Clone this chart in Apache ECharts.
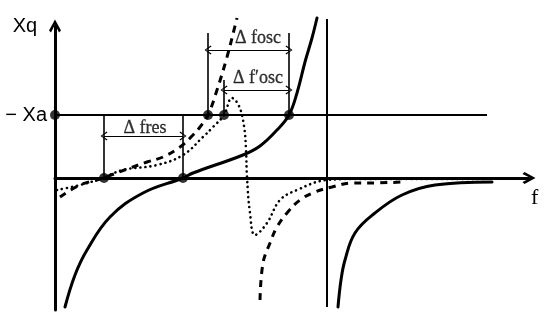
<!DOCTYPE html>
<html>
<head>
<meta charset="utf-8">
<script src="https://cdn.jsdelivr.net/npm/echarts@6/dist/echarts.min.js"></script>
<style>
    html, body { margin: 0; padding: 0; background: #fff; }
    #main { width: 550px; height: 319px; }
</style>
</head>
<body>
<div id="main"></div>
<script>
// diagram units: f to the right of the Xq axis, Xq upward from the f axis
var xaLevel = 63;
var asymptote = [[272, 159], [272, -129]];
var xaLine = [[0, xaLevel], [432, xaLevel]];

// crystal reactance (solid)
var solidLow = [[10, -129], [20, -97], [32, -72], [55, -39], [88, -15], [128, 0], [138, 5],
    [188, 23], [205, 32], [222, 48], [234, 63], [242, 85], [250, 116], [257, 140], [262, 160]];
var solidHigh = [[283, -129], [286, -102], [290, -82], [300, -55], [320, -35], [347, -17],
    [380, -7], [437, -4]];

// dashed curve
var dashedLow = [[5, -19], [25, -7], [45, -1], [75, 10], [92, 16], [108, 21], [125, 31],
    [138, 43], [145, 51], [153, 63], [162, 88], [172, 121], [180, 152], [182, 160]];
var dashedHigh = [[205, -122], [208, -85], [215, -65], [222, -49], [232, -35], [245, -22],
    [260, -14], [277, -9], [297, -5], [313, -5], [347, -4]];

// dotted curve
var dotted = [[2, -12], [25, -7], [45, -1], [68, 8], [102, 13], [128, 23], [148, 41],
    [158, 51], [169, 63], [177, 80], [184, 72], [189, 52], [191, 28], [192, 1], [195, -35],
    [200, -57], [212, -45], [225, -22], [242, -12], [272, -2], [300, -1], [430, -1]];

// crossing points
var crossings = [[0, xaLevel], [49, 0], [128, 0], [153, xaLevel], [169, xaLevel], [234, xaLevel]];

// guide lines [x, from, to] and spans [x1, x2, y]
var guides = [[49, 0, 63], [128, 0, 63], [153, 63, 145], [234, 63, 145], [169, 63, 98]];
var spans = [[49, 128, 42], [153, 234, 128], [169, 234, 88]];
var spanText = ['Δ fres', 'Δ fosc', 'Δ f′osc'];
var spanTextPos = [[90, 50], [203, 140], [203, 100]];

var myChart = echarts.init(document.getElementById('main'));

var axisArrow = 'path://M6,0L12,11L10,13L6,5L2,13L0,11Z';
var thinArrow = 'path://M5,0L10,8L9,9L5,2L1,9L0,8Z';

function curve(name, data, width, type, cap) {
    return {
        name: name,
        type: 'line',
        data: data,
        smooth: 0.4,
        symbol: 'none',
        clip: false,
        silent: true,
        lineStyle: {color: '#000', width: width, type: type, cap: cap || 'butt'}
    };
}

var series = [
    curve('Xa', xaLine, 2.2, 'solid'),
    curve('asymptote', asymptote, 2, 'solid'),
    curve('solidLow', solidLow, 3, 'solid', 'round'),
    curve('solidHigh', solidHigh, 3, 'solid', 'round'),
    curve('dashedLow', dashedLow, 3, [7, 6]),
    curve('dashedHigh', dashedHigh, 3, [7, 6]),
    curve('dotted', dotted, 2.6, [0.1, 5], 'round')
];

guides.forEach(function (g, i) {
    series.push(curve('guide' + i, [[g[0], g[1]], [g[0], g[2]]], 1.6, 'solid'));
});

series.push({
    name: 'spans',
    type: 'line',
    data: [],
    markLine: {
        silent: true,
        symbol: [thinArrow, thinArrow],
        symbolSize: [9, 7],
        label: {show: false},
        lineStyle: {color: '#000', width: 1, type: 'solid'},
        data: spans.map(function (s) {
            return [{coord: [s[0], s[2]]}, {coord: [s[1], s[2]]}];
        })
    }
});

series.push({
    name: 'points',
    type: 'scatter',
    data: crossings,
    symbolSize: 10,
    clip: false,
    silent: true,
    itemStyle: {color: '#000'}
});

series.push({
    name: 'labels',
    type: 'scatter',
    symbolSize: 1,
    silent: true,
    itemStyle: {color: 'transparent'},
    data: spanText.map(function (t, i) {
        return {name: t, value: spanTextPos[i]};
    }),
    label: {
        show: true,
        position: 'inside',
        formatter: '{b}',
        color: '#000',
        fontSize: 18,
        fontFamily: 'Liberation Serif',
        textBorderColor: '#000',
        textBorderWidth: 0.3
    }
});

var option = {
    backgroundColor: '#fff',
    animation: false,
    grid: {left: 55, right: 21, top: 26, bottom: 9},
    xAxis: {
        type: 'value',
        min: 0,
        max: 474,
        name: 'f',
        nameLocation: 'end',
        nameGap: 2,
        nameTextStyle: {
            color: '#000',
            fontSize: 22,
            fontFamily: 'Liberation Serif',
            verticalAlign: 'top',
            padding: [9, 0, 0, 0]
        },
        axisLine: {
            onZero: true,
            symbol: ['none', axisArrow],
            symbolSize: [15, 13],
            lineStyle: {color: '#000', width: 3}
        },
        axisTick: {show: false},
        axisLabel: {show: false},
        splitLine: {show: false}
    },
    yAxis: {
        type: 'value',
        min: -132,
        max: 152,
        name: 'Xq',
        nameLocation: 'end',
        nameGap: -10,
        nameTextStyle: {
            color: '#000',
            fontSize: 20,
            fontFamily: 'Liberation Sans',
            padding: [0, 60, 0, 0]
        },
        axisLine: {
            onZero: true,
            symbol: ['none', axisArrow],
            symbolSize: [13, 13],
            lineStyle: {color: '#000', width: 3}
        },
        axisTick: {show: false},
        axisLabel: {
            customValues: [xaLevel],
            formatter: function () { return '− Xa'; },
            margin: 8,
            color: '#000',
            fontSize: 20,
            fontFamily: 'Liberation Sans'
        },
        splitLine: {show: false}
    },
    series: series
};

myChart.setOption(option);
</script>
</body>
</html>
